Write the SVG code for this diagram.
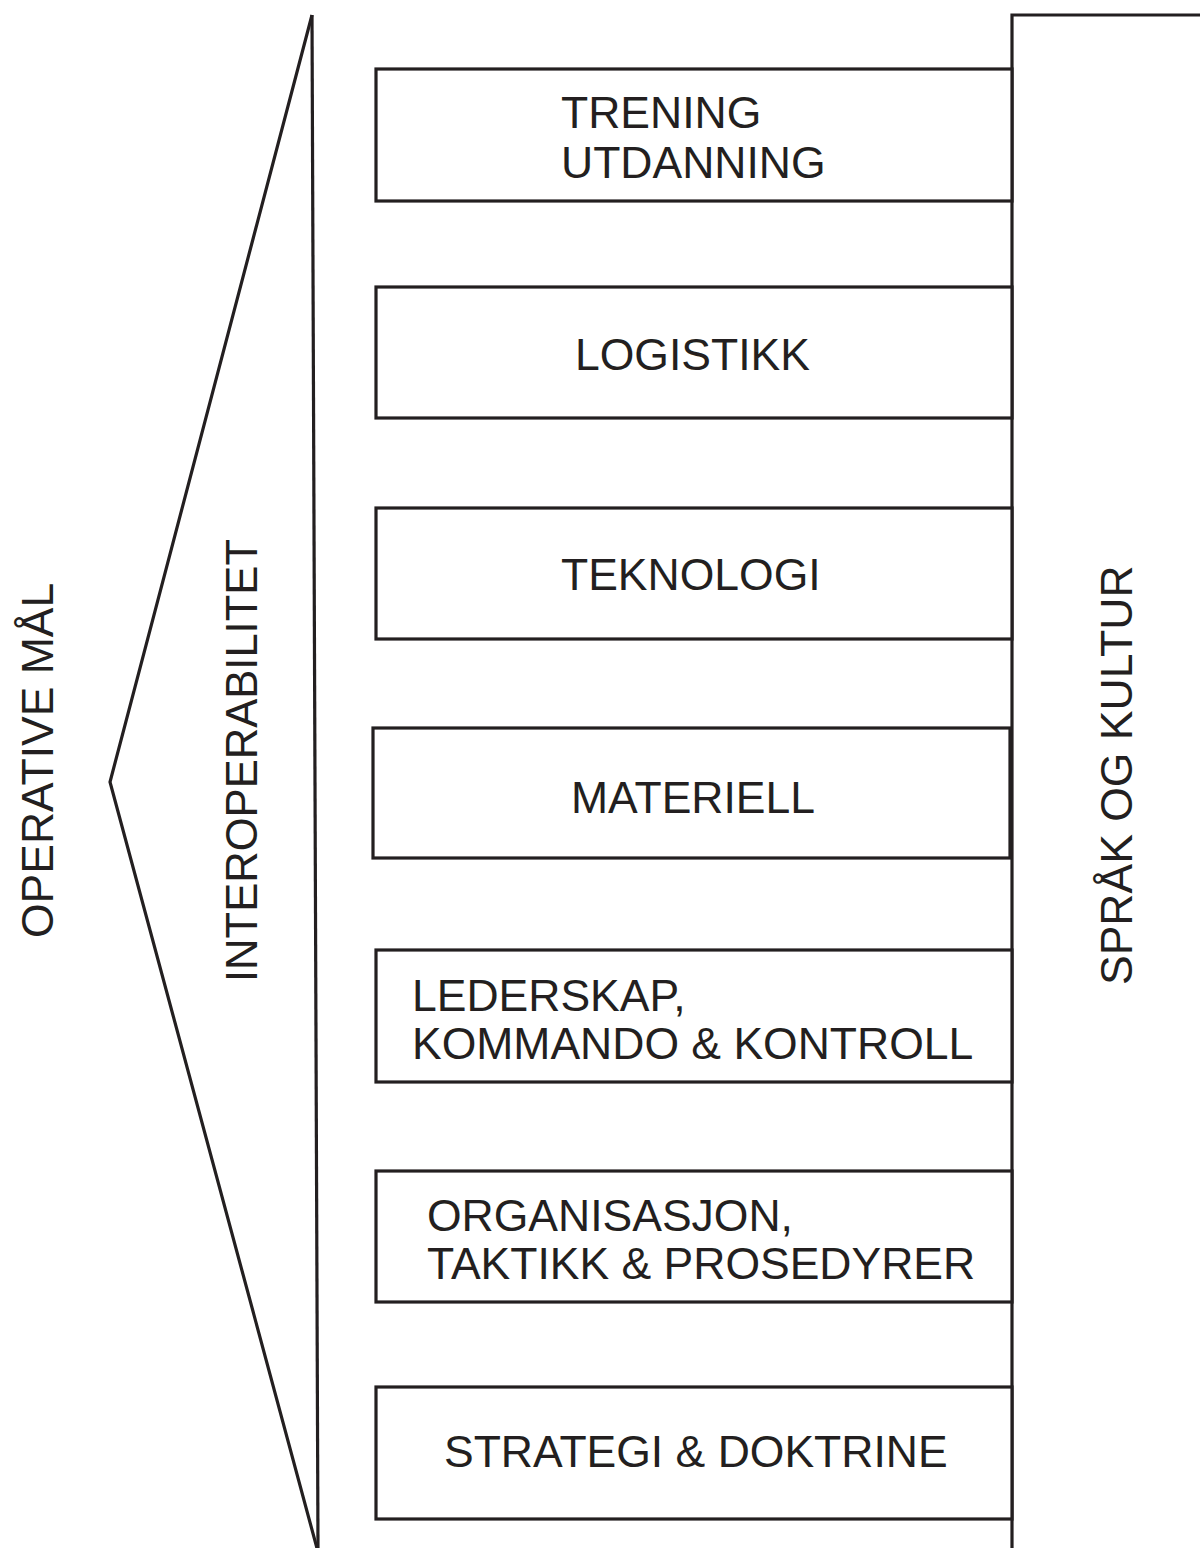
<svg xmlns="http://www.w3.org/2000/svg" width="1200" height="1548" viewBox="0 0 1200 1548">
<style>
.ln{fill:none;stroke:#231f20;stroke-width:3.2;stroke-linejoin:miter}
.bx{fill:#fff;stroke:#231f20;stroke-width:3.2}
.t{font-family:"Liberation Sans",Arial,sans-serif;font-size:44.5px;fill:#231f20}
</style>
<rect width="1200" height="1548" fill="#fff"/>
<g id="connectors">
<polyline class="ln" points="312,15 110,782 318,1552"/>
<line class="ln" x1="312" y1="15" x2="318" y2="1552"/>
<polyline class="ln" points="1200,15 1012,15 1012,1552"/>
</g>
<g id="operative-maal"><text class="t" transform="translate(53,938) rotate(-90)">OPERATIVE MÅL</text></g>
<g id="interoperabilitet"><text class="t" transform="translate(257,982) rotate(-90)" textLength="443" lengthAdjust="spacingAndGlyphs">INTEROPERABILITET</text></g>
<g id="sprak-og-kultur"><text class="t" transform="translate(1132,985) rotate(-90)">SPRÅK OG KULTUR</text></g>
<g id="trening"><rect class="bx" x="376" y="69" width="636" height="132"/><text class="t" x="561" y="128">TRENING</text><text class="t" x="561" y="178">UTDANNING</text></g>
<g id="logistikk"><rect class="bx" x="376" y="287" width="636" height="131"/><text class="t" x="575" y="370">LOGISTIKK</text></g>
<g id="teknologi"><rect class="bx" x="376" y="508" width="636" height="131"/><text class="t" x="561" y="590">TEKNOLOGI</text></g>
<g id="materiell"><rect class="bx" x="373" y="728" width="637" height="130"/><text class="t" x="571" y="813">MATERIELL</text></g>
<g id="lederskap"><rect class="bx" x="376" y="950" width="636" height="132"/><text class="t" x="412" y="1011">LEDERSKAP,</text><text class="t" x="412" y="1059">KOMMANDO &amp; KONTROLL</text></g>
<g id="organisasjon"><rect class="bx" x="376" y="1171" width="636" height="131"/><text class="t" x="427" y="1231">ORGANISASJON,</text><text class="t" x="427" y="1279">TAKTIKK &amp; PROSEDYRER</text></g>
<g id="strategi"><rect class="bx" x="376" y="1387" width="636" height="132"/><text class="t" x="444" y="1467">STRATEGI &amp; DOKTRINE</text></g>
</svg>
